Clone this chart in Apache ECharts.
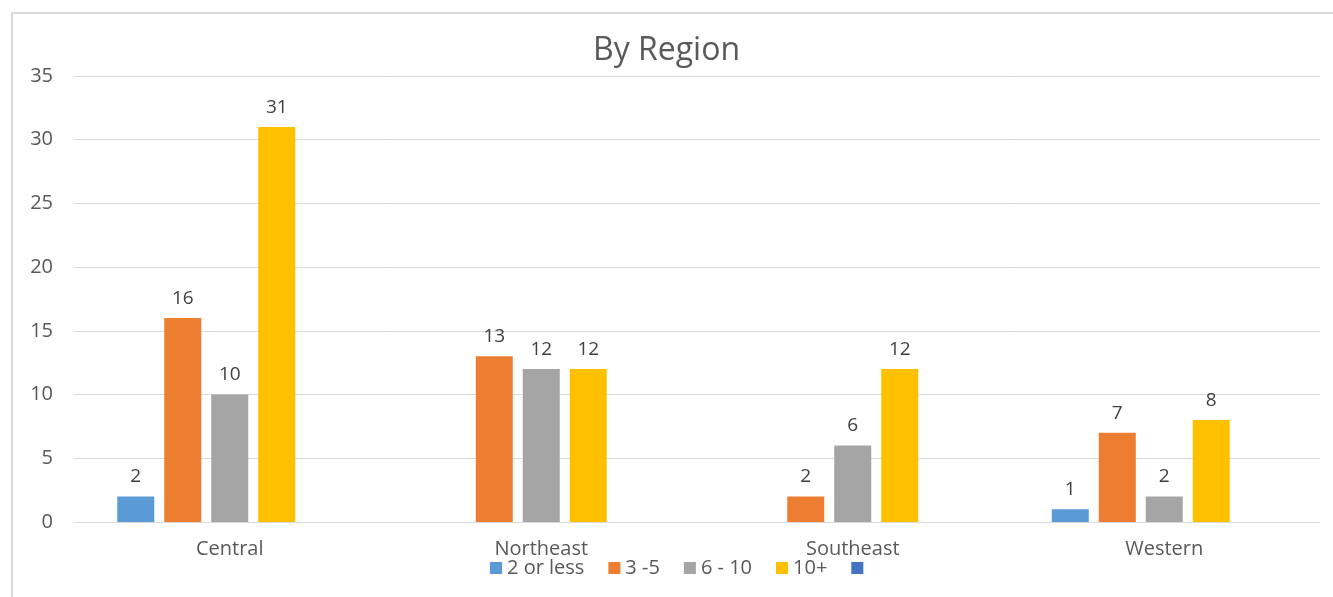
<!DOCTYPE html>
<html>
<head>
<meta charset="utf-8">
<title>By Region</title>
<script src="https://cdn.jsdelivr.net/npm/echarts@6/dist/echarts.min.js"></script>
<style>
	html, body {margin: 0; padding: 0; background: #fff;}
	#frame {position: absolute; left: 11px; top: 12px; width: 1340px; height: 600px; border-left: 2px solid #d9d9d9; border-top: 2px solid #d9d9d9;}
	#chart {position: absolute; left: 0; top: 0; width: 1333px; height: 597px;}
</style>
</head>
<body>
<div id="frame"></div>
<div id="chart"></div>
<script type="text/javascript">
	var regions = ['Central', 'Northeast', 'Southeast', 'Western'];
	var seriesNames = ['2 or less', '3 -5', '6 - 10', '10+', ' '];
	var twoOrLess = [2, '-', '-', 1];
	var threeToFive = [16, 13, 2, 7];
	var sixToTen = [10, 12, 6, 2];
	var tenPlus = [31, 12, 12, 8];
	var blank = [];
	var colors = ['#5b9bd5', '#ed7d31', '#a5a5a5', '#ffc000', '#4472c4'];

	var font = '"Open Sans", sans-serif';
	var allData = [twoOrLess, threeToFive, sixToTen, tenPlus, blank];
	var series = [];
	for (var i = 0; i < allData.length; i++) {
		series.push({
			name: seriesNames[i],
			type: 'bar',
			barWidth: 37,
			barGap: '27%',
			itemStyle: {color: colors[i]},
			label: {
				show: true,
				position: 'top',
				distance: 10,
				color: '#404040',
				fontSize: 19,
				fontFamily: font
			},
			data: allData[i]
		});
	}

	var option = {
		animation: false,
		title: {
			text: 'By Region',
			left: 'center',
			top: 30,
			textStyle: {color: '#595959', fontSize: 32, fontWeight: 'normal', fontFamily: font}
		},
		legend: {
			data: seriesNames,
			bottom: 14,
			left: 485,
			itemWidth: 12,
			itemHeight: 12,
			itemGap: 24,
			icon: 'rect',
			textStyle: {color: '#595959', fontSize: 20, fontFamily: font}
		},
		grid: {
			left: 74,
			right: 13,
			top: 76,
			bottom: 75
		},
		xAxis: {
			type: 'category',
			data: regions,
			axisLine: {lineStyle: {color: '#d9d9d9'}},
			axisTick: {show: false},
			axisLabel: {color: '#595959', fontSize: 20, fontFamily: font, margin: 17}
		},
		yAxis: {
			type: 'value',
			min: 0,
			max: 35,
			interval: 5,
			axisLine: {show: false},
			axisTick: {show: false},
			splitLine: {lineStyle: {color: '#d9d9d9'}},
			axisLabel: {color: '#595959', fontSize: 20, fontFamily: font, margin: 21}
		},
		series: series
	};
	var myChart = echarts.init(document.getElementById('chart'));
	myChart.setOption(option);
</script>
</body>
</html>
